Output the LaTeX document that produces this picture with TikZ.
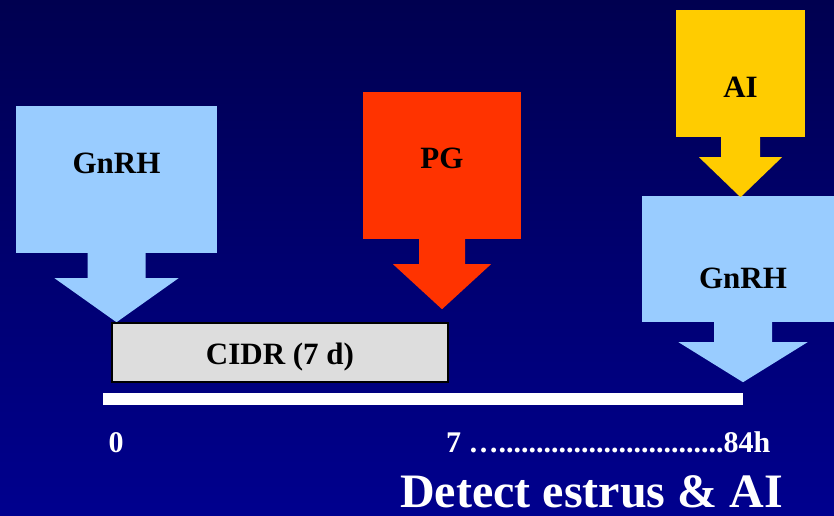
\documentclass[tikz,border=0pt]{standalone}
\usepackage{fontspec}
\setmainfont{Liberation Serif}
\usetikzlibrary{positioning}

\definecolor{gnrhblue}{HTML}{99CCFF}
\definecolor{pgred}{HTML}{FF3300}
\definecolor{aiyellow}{HTML}{FFCC00}
\definecolor{cidrgray}{HTML}{DDDDDD}
\definecolor{slidetop}{HTML}{000050}
\definecolor{slidebottom}{HTML}{00008E}

% pointer under a box: node, stem half width, stem length, head half width, head length, colour
\newcommand{\pointer}[6]{%
  \fill[#6] ([xshift=-#2pt]#1.south) -- ++(0pt,-#3pt) -- ++(#2pt-#4pt,0pt)
    -- ++(#4pt,-#5pt) -- ++(#4pt,#5pt) -- ++(#2pt-#4pt,0pt) -- ++(0pt,#3pt) -- cycle;}

\begin{document}
\begin{tikzpicture}[x=1pt,y=-1pt,
        shot/.style={inner sep=0pt, text=black, font=\bfseries\fontsize{31}{31}\selectfont},
        axislabel/.style={inner sep=0pt, text=white, anchor=base, font=\bfseries\fontsize{30}{30}\selectfont}]
        \useasboundingbox (0,0) rectangle (834,515);
        \shade[top color=slidetop, bottom color=slidebottom] (0,0) rectangle (834,515);
        \clip (0,0) rectangle (834,515);

        \node[shot, fill=gnrhblue, minimum width=201pt, text height=67pt, text depth=80pt] (gnrhA) at (116.5,179.5) {GnRH};
        \pointer{gnrhA}{29}{25}{62}{44}{gnrhblue}

        \node[shot, fill=pgred, minimum width=158pt, text height=76pt, text depth=71pt] (pg) at (442,165.5) {PG};
        \pointer{pg}{23}{25}{49}{45}{pgred}

        \node[shot, fill=gnrhblue, minimum width=202pt, text height=92pt, text depth=34pt] (gnrhB) at (743,259) {GnRH};
        \pointer{gnrhB}{29}{20}{64.5}{40}{gnrhblue}

        \node[shot, fill=aiyellow, minimum width=129pt, text height=87pt, text depth=40pt] (ai) at (740.5,73.5) {AI};
        \pointer{ai}{19.5}{20}{41.5}{40}{aiyellow}

        \node[shot, fill=cidrgray, draw=black, line width=1.2pt, minimum width=336pt, text height=41pt, text depth=18pt] (cidr) at (280,352.5) {CIDR (7 d)};

        \node[fill=white, inner sep=0pt, minimum width=640pt, minimum height=12pt] (timeline) at (423,399) {};

        \node[axislabel] (day0) at (116,452) {0};
        \node[axislabel, anchor=base west] (day7) at (446,452) {7 …..............................84h};
        \node[axislabel, anchor=base west, text depth=0pt, font=\bfseries\fontsize{48}{48}\selectfont] (detect) at (400,507) {Detect estrus \& AI};
\end{tikzpicture}
\end{document}
